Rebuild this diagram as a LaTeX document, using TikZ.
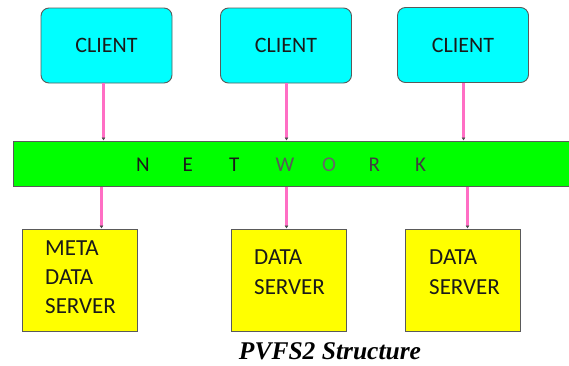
\documentclass[tikz,border=0pt]{standalone}
\usepackage{fontspec}
\setmainfont{Carlito}
\newfontfamily\capfont{Liberation Serif}
\usetikzlibrary{arrows.meta}
\definecolor{clientfill}{HTML}{00FFFF}
\definecolor{netfill}{HTML}{00FF00}
\definecolor{srvfill}{HTML}{FFFF00}
\definecolor{boxline}{HTML}{5A5A5A}
\definecolor{linkpink}{HTML}{FF6EC4}
\definecolor{txt}{HTML}{1A1A1A}
\tikzset{
  client/.style={draw=boxline, line width=0.9pt, fill=clientfill, rounded corners=8pt,
    minimum width=131pt, minimum height=75pt, inner sep=0pt,
    font=\fontsize{22}{26}\selectfont, text=txt},
  netbar/.style={draw=boxline, line width=1pt, fill=netfill, minimum width=562pt,
    minimum height=45pt, inner sep=0pt},
  server/.style={draw=boxline, line width=1pt, fill=srvfill, minimum width=115pt,
    minimum height=102pt, inner sep=0pt},
  srvtext/.style={inner sep=0pt, align=left, anchor=north west, text=txt},
  link/.style={draw=linkpink, line width=2.2pt,
    -{Latex[length=3pt,width=4pt,color=black!70]}},
}
\begin{document}
\begin{tikzpicture}[x=1pt,y=-1pt]
\useasboundingbox (0,0) rectangle (569,365);
% clients
\node[client] (c1) at (106.5,45.5) {CLIENT};
\node[client] (c2) at (286,45.5) {CLIENT};
\node[client] (c3) at (463,45) {CLIENT};
% network
\node[netbar] (net) at (294,163.5) {};
\node[anchor=base west, inner sep=0pt, text=txt, font=\fontsize{21}{24}\selectfont] (nettext) at (136,171)
  {\makebox[46.5pt][l]{N}\makebox[46.5pt][l]{E}\makebox[46.5pt][l]{T}\makebox[46.5pt][l]{\color{black!65}W}\makebox[46.5pt][l]{\color{black!60}O}\makebox[46.5pt][l]{\color{black!75}R}\makebox[10pt][l]{\color{black!75}K}};
% servers
\node[server] (s1) at (79.75,280) {};
\node[server] (s2) at (288.5,280) {};
\node[server] (s3) at (463,280) {};
\node[srvtext, font=\fontsize{23}{29}\selectfont] (t1) at (45,241) {META\\DATA\\SERVER};
\node[srvtext, font=\fontsize{23}{30}\selectfont] (t2) at (254,250) {DATA\\SERVER};
\node[srvtext, font=\fontsize{23}{30}\selectfont] (t3) at (429,250) {DATA\\SERVER};
% link anchor points
\coordinate (u1) at (103.5,0);
\coordinate (u2) at (286.5,0);
\coordinate (u3) at (463.5,0);
\coordinate (d1) at (101.5,0);
\coordinate (d2) at (286.5,0);
\coordinate (d3) at (467.5,0);
% links
\draw[link] (u1 |- c1.south) -- (u1 |- net.north);
\draw[link] (u2 |- c2.south) -- (u2 |- net.north);
\draw[link] (u3 |- c3.south) -- (u3 |- net.north);
\draw[link] (d1 |- net.south) -- (d1 |- s1.north);
\draw[link] (d2 |- net.south) -- (d2 |- s2.north);
\draw[link] (d3 |- net.south) -- (d3 |- s3.north);
% caption
\node[anchor=base, inner sep=0pt, font=\capfont\bfseries\itshape\fontsize{25.5}{30}\selectfont] (caption) at (330,359) {PVFS2 Structure};
\end{tikzpicture}
\end{document}
